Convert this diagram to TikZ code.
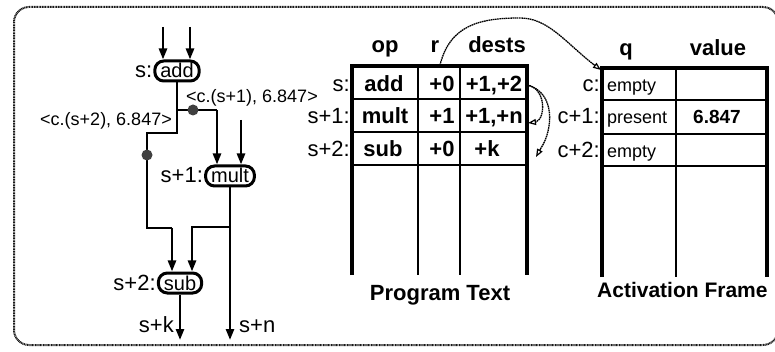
\documentclass[tikz,border=0pt]{standalone}
\usepackage{fontspec}
\setmainfont{Liberation Sans}
\usepackage{tikz}
\usetikzlibrary{positioning}
\usetikzlibrary{arrows.meta}

\tikzset{
  opnode/.style={draw,line width=3pt,rounded corners=9pt,inner xsep=5.5pt,inner ysep=2.5pt,
    text height=14.5pt,text depth=0.5pt,font=\fontsize{20}{22}\selectfont},
  lblbig/.style={font=\fontsize{22}{24}\selectfont,inner sep=0pt},
  lblbold/.style={font=\fontsize{22}{24}\selectfont\bfseries,inner sep=0pt},
  lblsm/.style={font=\fontsize{18}{20}\selectfont,inner sep=0pt},
  lblsmb/.style={font=\fontsize{19}{21}\selectfont\bfseries,inner sep=0pt},
  wire/.style={line width=2.5pt},
  wavy/.style={line width=1.3pt,dash pattern=on 1.6pt off 0.6pt},
  wavytip/.style={line width=1.2pt,-{Triangle[open,length=8pt,width=6pt]}},
  tokdot/.style={circle,fill=black!75,inner sep=0pt,minimum size=11pt},
}

\begin{document}
\begin{tikzpicture}[x=1pt,y=-1pt,>={Triangle[length=11pt,width=8pt]}]
  \useasboundingbox (0,0) rectangle (775,352);
  % outer frame
  \draw[line width=2pt,black!90,rounded corners=15pt,dash pattern=on 1pt off 0.6pt] (14,7) rectangle (778,345);

  % dataflow graph
  \node[opnode] (add) at (177,71) {add};
  \node[opnode] (mult) at (230,176) {mult};
  \node[opnode] (sub) at (180,283) {sub};
  \node[lblbig,base left=1pt of add] (ladd) {s:};
  \node[lblbig,base left=1pt of mult] (lmult) {s+1:};
  \node[lblbig,base left=1pt of sub] (lsub) {s+2:};
  % inputs of add
  \coordinate (ina) at (163,27);
  \coordinate (inb) at (190,27);
  \draw[wire,->] (ina) -- (ina |- add.north);
  \draw[wire,->] (inb) -- (inb |- add.north);
  % add output, split in two tokens
  \coordinate (ja) at (177,110);
  \coordinate (jb) at (217,110);
  \coordinate (jc) at (177,133);
  \coordinate (jd) at (147,133);
  \coordinate (je) at (147,228);
  \coordinate (jf) at (172,228);
  \draw[wire] (add.south) -- (ja) -- (jb);
  \draw[wire,->] (jb) -- (jb |- mult.north);
  \draw[wire] (ja) -- (jc) -- (jd) -- (je) -- (jf);
  \draw[wire,->] (jf) -- (jf |- sub.north);
  \node[tokdot] (tka) at (193,110) {};
  \node[tokdot] (tkb) at (147,155) {};
  \node[lblsm,anchor=base west] (vala) at (186,103) {<c.(s+1), 6.847>};
  \node[lblsm,anchor=base east] (valb) at (172,126) {<c.(s+2), 6.847>};
  % second input of mult
  \coordinate (inc) at (241,120);
  \draw[wire,->] (inc) -- (inc |- mult.north);
  % mult output
  \coordinate (ma) at (230,227);
  \coordinate (mb) at (192,227);
  \coordinate (sn) at (230,340);
  \draw[wire,->] (mult.south) -- (sn);
  \draw[wire,->] (ma) -- (mb) -- (mb |- sub.north);
  % sub output
  \coordinate (sk) at (180,340);
  \draw[wire,->] (sub.south) -- (sk);
  \node[lblbig,anchor=base east] (lsk) at (174,332) {s+k};
  \node[lblbig,anchor=base west] (lsn) at (239,332) {s+n};

  % program text table
  \draw[line width=2.5pt] (418,66) -- (418,275) (460,66) -- (460,275);
  \foreach \y in {99,132,165}
    \draw[line width=2.5pt] (352,\y) -- (527,\y);
  \draw[line width=4pt] (352,275) -- (352,66) -- (527,66) -- (527,275);
  \node[lblbold,anchor=base] (hop) at (385,53) {op};
  \node[lblbold,anchor=base] (hr) at (435,53) {r};
  \node[lblbold,anchor=base] (hdst) at (497,53) {dests};
  \node[lblbig,anchor=base east] (ps0) at (350,92) {s:};
  \node[lblbig,anchor=base east] (ps1) at (350,124) {s+1:};
  \node[lblbig,anchor=base east] (ps2) at (350,157) {s+2:};
  \node[lblbold,anchor=base] (opa) at (384,92) {add};
  \node[lblbold,anchor=base] (opb) at (385,124) {mult};
  \node[lblbold,anchor=base] (opc) at (383,157) {sub};
  \node[lblbold,anchor=base] (ra) at (442,92) {+0};
  \node[lblbold,anchor=base] (rb) at (442,124) {+1};
  \node[lblbold,anchor=base] (rc) at (442,157) {+0};
  \node[lblbold,anchor=base] (da) at (494,92) {+1,+2};
  \node[lblbold,anchor=base] (db) at (494,124) {+1,+n};
  \node[lblbold,anchor=base] (dc) at (487,157) {+k};
  \node[lblbold,anchor=base] (ptxt) at (440,300) {Program Text};

  % activation frame table
  \draw[line width=2.5pt] (676,68) -- (676,277);
  \foreach \y in {100,134,166}
    \draw[line width=2.5pt] (602,\y) -- (767,\y);
  \draw[line width=4pt] (602,277) -- (602,68) -- (767,68) -- (767,277);
  \node[lblbold,anchor=base] (hq) at (626,56) {q};
  \node[lblbold,anchor=base] (hval) at (718,56) {value};
  \node[lblbig,anchor=base east] (fc0) at (600,92) {c:};
  \node[lblbig,anchor=base east] (fc1) at (600,124) {c+1:};
  \node[lblbig,anchor=base east] (fc2) at (600,158) {c+2:};
  \node[lblsm,anchor=base west] (qa) at (607,92) {empty};
  \node[lblsm,anchor=base west] (qb) at (607,124) {present};
  \node[lblsm,anchor=base west] (qc) at (607,158) {empty};
  \node[lblsmb,anchor=base] (vb) at (717,124) {6.847};
  \node[lblbold,anchor=base west,font=\fontsize{21}{23}\selectfont\bfseries] (aftxt) at (597,297) {Activation Frame};

  % hand drawn pointers
  \coordinate (rtop) at (440,65);
  \coordinate (cfa) at (593,64);
  \coordinate (cfr) at (601,70);
  \draw[wavy] (rtop) .. controls (450,25) and (480,18) .. (520,18) .. controls (548,18) and (565,42) .. (cfa);
  \draw[wavytip] (cfa) -- (cfr);
  \coordinate (dst) at (527,85);
  \coordinate (dsa) at (536,122);
  \coordinate (dsb) at (541,148);
  \coordinate (rwa) at (528,123);
  \coordinate (rwb) at (536,157);
  \draw[wavy] (dst) .. controls (546,88) and (546,118) .. (dsa);
  \draw[wavytip] (dsa) -- (rwa);
  \draw[wavy] (dst) .. controls (556,92) and (553,130) .. (dsb);
  \draw[wavytip] (dsb) -- (rwb);
\end{tikzpicture}
\end{document}
